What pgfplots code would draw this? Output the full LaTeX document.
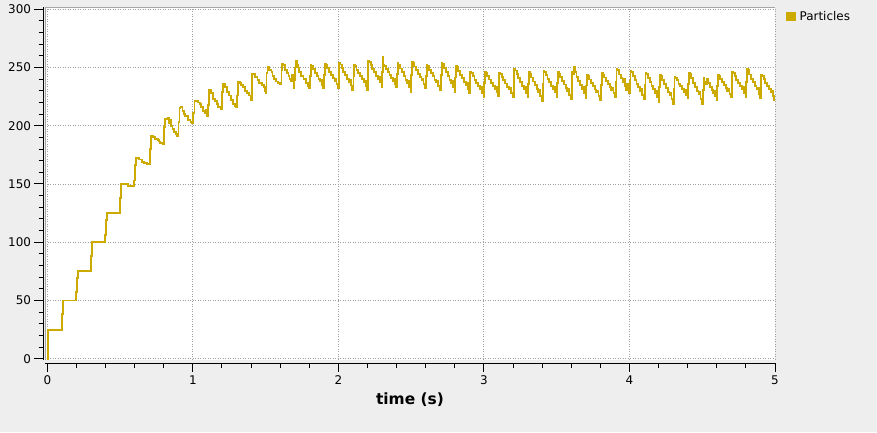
\documentclass[border=0pt]{standalone}
\usepackage{fontspec}
\setmainfont{DejaVu Sans}
\usepackage{pgfplots}
\usepackage{pgfplotstable}
\pgfplotsset{compat=1.18}
\definecolor{particles}{RGB}{204,170,0}
\definecolor{chartbg}{RGB}{238,238,238}
\definecolor{gridgray}{RGB}{160,160,160}
\definecolor{framegray}{RGB}{165,165,165}

% particle count over time
\pgfplotstableread{
t n
0 0
0.002 13
0.005 25
0.101 38
0.108 50
0.200 57
0.205 69
0.211 75
0.301 88
0.308 100
0.398 106
0.402 119
0.409 125
0.501 138
0.508 150
0.552 148.5
0.592 148
0.597 153
0.602 166
0.611 172.5
0.628 171
0.651 169
0.662 168
0.685 167
0.703 180
0.710 191.5
0.726 190
0.742 189
0.759 188
0.766 186.5
0.777 185
0.793 184
0.802 199
0.809 205.5
0.823 206
0.830 207
0.837 202
0.846 205
0.851 200
0.860 197
0.869 195
0.883 193
0.893 191
0.901 203
0.908 215.5
0.915 216
0.929 213
0.936 210
0.943 208
0.968 205
0.984 203
0.995 202
1.002 211
1.011 221.5
1.025 221
1.037 220
1.048 219
1.057 216
1.069 213
1.080 211
1.087 214
1.094 210
1.099 208
1.103 218
1.108 230.5
1.122 228
1.136 223
1.152 221
1.163 219
1.175 216
1.191 214
1.200 229
1.209 235.5
1.218 233
1.232 229
1.248 226
1.264 222
1.278 219
1.290 217
1.299 216
1.303 226
1.310 237.5
1.324 237
1.333 235
1.347 233
1.359 230
1.375 228
1.384 226
1.398 222
1.405 233
1.409 244.5
1.425 242
1.444 239
1.457 237
1.474 235
1.490 233
1.497 230
1.501 228
1.506 245
1.513 250.5
1.526 248
1.540 246
1.547 243
1.559 240
1.572 238
1.582 237
1.600 236
1.609 248
1.611 253
1.623 252
1.632 248
1.644 245
1.657 243
1.664 240
1.674 238
1.680 244
1.686 240
1.692 232
1.698 239
1.703 250
1.707 256
1.715 252
1.724 250
1.731 246
1.745 243
1.760 240
1.775 237
1.790 234
1.800 232
1.805 243
1.809 252
1.815 251
1.825 248.4
1.837 245.6
1.850 243
1.863 240.4
1.875 238
1.882 239.4
1.889 235.2
1.897 232
1.903 243.6
1.907 253
1.913 252
1.923 249.3
1.935 246.4
1.948 243.7
1.961 241.1
1.973 238.6
1.980 240
1.987 235.7
1.995 232.4
2.002 244.1
2.006 253.6
2.012 252.6
2.022 249.5
2.034 246.4
2.047 243.4
2.060 240.5
2.072 237.8
2.079 239
2.086 234.6
2.094 231
2.104 242.6
2.108 252
2.114 251
2.124 248.2
2.136 245.3
2.149 242.6
2.162 239.8
2.174 237.3
2.181 238.8
2.188 234.4
2.196 231
2.201 244.8
2.205 256
2.211 255
2.221 252
2.233 248.8
2.246 245.9
2.259 243
2.271 240.3
2.278 241.8
2.285 237.1
2.296 233.5
2.300 246
2.304 258.7
2.309 252
2.316 251
2.326 248.5
2.338 246
2.351 243.5
2.363 241
2.375 238.5
2.382 240
2.389 236
2.398 233.5
2.403 244.6
2.407 253.6
2.413 252.6
2.423 249.2
2.435 245.8
2.448 242.6
2.461 239.4
2.473 236.5
2.480 238.2
2.487 233.1
2.496 229.2
2.501 243.4
2.505 255
2.511 254
2.521 250.9
2.533 247.6
2.546 244.7
2.559 241.7
2.571 238.9
2.578 240.5
2.585 235.7
2.597 232
2.602 243
2.606 252
2.612 251
2.622 248.2
2.634 245.2
2.647 242.4
2.660 239.6
2.672 237.1
2.679 238.6
2.686 234.1
2.700 230.7
2.705 243.5
2.709 254
2.715 253
2.725 249.5
2.737 246.1
2.750 242.8
2.763 239.6
2.775 236.6
2.782 238.4
2.789 233.2
2.800 229.2
2.804 241.4
2.808 251.3
2.814 250.3
2.824 247.1
2.836 243.8
2.849 240.7
2.862 237.7
2.874 234.9
2.881 236.5
2.888 231.6
2.899 227.8
2.903 238
2.907 246.4
2.913 245.4
2.923 242.5
2.935 239.6
2.948 236.8
2.961 234
2.973 231.4
2.980 232.9
2.987 228.4
2.998 225
3.003 236.8
3.007 246.4
3.013 245.4
3.023 242.6
3.035 239.7
3.048 237
3.061 234.3
3.073 231.8
3.080 233.2
3.087 228.8
3.098 225.5
3.102 236.5
3.106 245.5
3.112 244.5
3.122 241.8
3.134 239
3.147 236.3
3.160 233.6
3.172 231.2
3.179 232.6
3.186 228.3
3.200 225
3.205 237.9
3.209 248.4
3.215 247.4
3.225 244.1
3.237 240.7
3.250 237.6
3.263 234.5
3.275 231.6
3.282 233.3
3.289 228.2
3.300 224.4
3.304 236.2
3.308 245.8
3.314 244.8
3.324 241.4
3.336 238
3.349 234.9
3.362 231.7
3.374 228.8
3.381 230.5
3.388 225.4
3.400 221.5
3.405 235.7
3.409 247.3
3.415 246.3
3.425 243.3
3.437 240.2
3.450 237.3
3.463 234.4
3.475 231.7
3.482 233.2
3.489 228.6
3.499 225
3.503 236.4
3.507 245.8
3.513 244.8
3.523 241.6
3.535 238.4
3.548 235.4
3.561 232.4
3.573 229.6
3.580 231.2
3.587 226.4
3.598 222.7
3.602 234.5
3.606 246.5
3.612 244
3.618 250.2
3.626 246.5
3.636 241.8
3.648 238.2
3.661 234.8
3.673 231.6
3.680 233
3.687 227.8
3.698 223.6
3.703 234.6
3.707 243.6
3.713 242.6
3.723 239.7
3.735 236.7
3.748 233.9
3.761 231.1
3.773 228.6
3.780 230
3.787 225.5
3.800 222.1
3.806 234.7
3.810 245
3.816 244
3.826 241.4
3.838 238.6
3.851 236
3.864 233.4
3.876 231
3.883 232.4
3.890 228.2
3.902 225
3.907 237.9
3.911 248.5
3.917 247.5
3.927 244
3.939 240.8
3.952 237.6
3.962 240
3.970 234.5
3.978 231
3.984 236
3.992 232
3.999 227.9
4.003 238.6
4.007 247.3
4.013 246.3
4.023 242.9
4.035 239.4
4.048 236.2
4.061 233
4.073 230.1
4.080 231.8
4.087 226.6
4.100 222.7
4.106 235.3
4.110 245.6
4.116 244.6
4.126 241.1
4.138 237.6
4.151 234.4
4.164 231.2
4.176 228.2
4.183 229.9
4.190 224.7
4.201 220.7
4.205 233.3
4.209 243.6
4.215 242.6
4.225 239.1
4.237 235.6
4.250 232.4
4.263 229.2
4.275 226.2
4.282 227.9
4.289 222.7
4.300 218.7
4.305 231.6
4.309 242.2
4.315 241.2
4.325 238.9
4.337 236.2
4.350 233.8
4.363 231.4
4.375 229.2
4.382 230.5
4.389 226.6
4.400 223.6
4.404 235.7
4.408 245.6
4.414 244.6
4.424 240.8
4.436 237
4.449 233.5
4.462 230
4.474 226.8
4.481 228.6
4.488 223
4.499 218.7
4.505 230.8
4.509 240.7
4.515 238
4.525 236
4.532 240
4.540 236.5
4.552 233.5
4.564 231
4.576 228.5
4.583 229.8
4.590 225.5
4.600 222.1
4.603 233.9
4.607 243.6
4.613 242.6
4.623 240.1
4.635 237.5
4.648 235
4.661 232.5
4.673 230.2
4.680 231.5
4.687 227.5
4.698 224.4
4.702 236.6
4.706 246.5
4.712 245.5
4.722 242.6
4.734 239.6
4.747 236.8
4.760 234
4.772 231.5
4.779 233
4.786 228.4
4.799 225
4.803 237.9
4.807 248.5
4.813 247.5
4.823 244
4.835 240.5
4.848 237.3
4.861 234.1
4.873 231.1
4.880 232.8
4.887 227.6
4.898 223.6
4.902 234.8
4.906 244
4.912 243
4.922 240.1
4.934 237
4.947 234.1
4.960 231.3
4.972 228.7
4.979 230.2
4.986 225.6
4.996 222.1
5.000 222.1
}\partdata

\begin{document}
\begin{tikzpicture}[x=1bp,y=1bp]
\fill[chartbg] (0,0) rectangle (877,-432);
\begin{axis}[
  at={(45bp,-359.5bp)}, anchor=south west,
  scale only axis, width=730bp, height=352.2bp,
  xmin=-0.016, xmax=5.0, ymin=-0.7, ymax=301.7,
  axis background/.style={fill=white},
  axis lines=left,
  axis x line shift=3.8bp,
  axis y line shift=2bp,
  axis line style={-, black, line width=1bp},
  xtick={0,...,5}, ytick={0,50,...,300},
  minor x tick num=4, minor y tick num=4,
  tick align=outside,
  major tick length=8.5bp, minor tick length=4.3bp,
  tick style={black, line width=1bp},
  grid=major,
  major grid style={gridgray, line width=0.9bp, dash pattern=on 1bp off 1.5bp},
  ticklabel style={font=\fontsize{12}{14}\selectfont, text=black},
  /pgf/number format/assume math mode=true,
  xlabel={time (s)},
  every axis x label/.style={at={(axis description cs:0.5,0)}, anchor=base, yshift=-44.5bp, font=\bfseries\fontsize{15.5}{18}\selectfont},
  legend cell align=left,
  legend style={at={(axis description cs:1,1)}, anchor=north west, xshift=11bp, yshift=-2bp, draw=none, fill=none, font=\fontsize{12}{14}\selectfont, inner sep=0pt},
  legend image code/.code={\fill[particles] (0bp,-3.7bp) rectangle (8bp,3.7bp); \path (9.5bp,0bp);},
]
\addplot[const plot, particles, line width=1.9bp] table[x=t,y=n] {\partdata};
\addlegendentry{Particles}
\draw[framegray, line width=1bp] (rel axis cs:0,0) -- (rel axis cs:0,1) -- (rel axis cs:1,1);
\end{axis}
\pgfresetboundingbox
\useasboundingbox (0,0) rectangle (877,-432);
\end{tikzpicture}
\end{document}
